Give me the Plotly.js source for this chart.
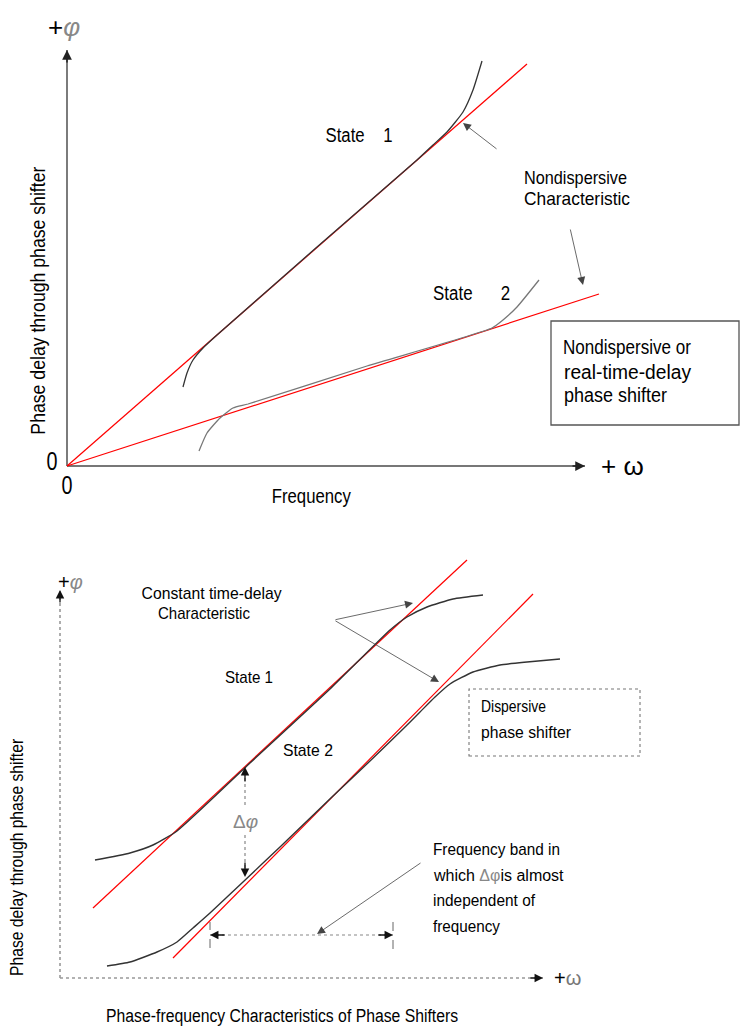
<!DOCTYPE html>
<html>
<head>
<meta charset="utf-8">
<script src="https://cdn.plot.ly/plotly-3.0.1.min.js"></script>
<style>
html,body{margin:0;padding:0;background:#fff;}
#chart{width:741px;height:1026px;}
</style>
</head>
<body>
<div id="chart"></div>
<script>
// ---------- DATA (top panel: nondispersive phase shifter) ----------
const topAxisX = [0, 518];          // frequency axis extent
const topAxisY = [0, 416];          // phase axis extent
const topRed1X = [0, 460];
const topRed1Y = [0, 402];
const topRed2X = [0, 532];
const topRed2Y = [0, 172];
const topState1X = [116, 120, 126, 136, 150, 250, 350, 366, 380, 396, 406, 415];
const topState1Y = [79, 93, 106, 118, 131, 219, 306, 321, 334, 354, 376, 405];
const topState2X = [132, 140, 153, 166, 181, 300, 425, 436, 450, 472];
const topState2Y = [15, 33, 48, 58, 62, 100, 138, 146, 159, 186];

// ---------- DATA (bottom panel: dispersive phase shifter) ----------
const botAxisX = [0, 483];
const botAxisY = [0, 388];
const botRed1X = [33, 407];
const botRed1Y = [70, 418];
const botRed2X = [113, 473];
const botRed2Y = [20, 384];
const botState1X = [35, 70, 93, 117, 190, 270, 330, 347, 367, 393, 423];
const botState1Y = [118, 125, 133, 147, 215, 289, 348, 361, 371, 379, 383];
const botState2X = [47, 70, 97, 117, 133, 150, 183, 220, 273, 310, 343, 360, 375, 390, 413, 440, 467, 500];
const botState2Y = [12, 16, 26, 36, 50, 65, 96, 131, 182, 217, 249, 266, 281, 294, 306, 313, 316, 319];
const deltaPhiX = 185;               // where delta-phi is measured
const deltaPhiY = [211, 101];        // state 1 / state 2 phase at deltaPhiX
const bandX = [150, 333];            // frequency band of near-constant delta-phi
const bandY = 43;

// ---------- STYLE ----------
const FONT = "Liberation Sans, Arial, sans-serif";
const RED = "#ff0000";

function line(x, y, xa, ya, color, width, dash, shape) {
  return {x: x, y: y, xaxis: xa, yaxis: ya, type: "scatter", mode: "lines",
    hoverinfo: "skip", showlegend: false,
    line: {color: color, width: width, dash: dash || "solid", shape: shape || "linear", smoothing: 0.5}};
}

const traces = [
  // top axes
  line(topAxisX, [0, 0], "x", "y", "#777", 2),
  line([0, 0], topAxisY, "x", "y", "#444", 1.4),
  // top characteristics
  line(topRed1X, topRed1Y, "x", "y", RED, 1.2),
  line(topRed2X, topRed2Y, "x", "y", RED, 1.2),
  line(topState1X, topState1Y, "x", "y", "#333", 1.3, "solid", "spline"),
  line(topState2X, topState2Y, "x", "y", "#777", 1.3, "solid", "spline"),
  // bottom axes (dashed)
  line(botAxisX, [0, 0], "x2", "y2", "#999", 1.6, "dot"),
  line([0, 0], botAxisY, "x2", "y2", "#999", 1.6, "dot"),
  // bottom characteristics
  line(botRed1X, botRed1Y, "x2", "y2", RED, 1.2),
  line(botRed2X, botRed2Y, "x2", "y2", RED, 1.2),
  line(botState1X, botState1Y, "x2", "y2", "#333", 1.4, "solid", "spline"),
  line(botState2X, botState2Y, "x2", "y2", "#333", 1.4, "solid", "spline"),
  // delta-phi dimension
  line([deltaPhiX, deltaPhiX], [deltaPhiY[0] - 5, 170], "x2", "y2", "#888", 1.2, "dot"),
  line([deltaPhiX, deltaPhiX], [143, deltaPhiY[1] + 5], "x2", "y2", "#888", 1.2, "dot"),
  // frequency band dimension
  line(bandX, [bandY, bandY], "x2", "y2", "#888", 1.2, "dot"),
  line([bandX[0], bandX[0]], [bandY - 13, bandY + 13], "x2", "y2", "#666", 1, "dash"),
  line([bandX[1], bandX[1]], [bandY - 14, bandY + 13], "x2", "y2", "#666", 1, "dash")
];

// annotations + target text widths (to mimic the narrow drafting font)
const annotations = [];
const textWidth = [];
function add(ann, w) { annotations.push(ann); textWidth.push(w || 0); }

function txt(x, y, text, size, opts) {
  return Object.assign({x: x, y: y, xref: "x", yref: "y", text: text, showarrow: false,
    font: {family: FONT, size: size, color: "#000"}, xanchor: "center", yanchor: "middle"}, opts || {});
}
function arrow(hx, hy, tx, ty, xr, yr, opts) {
  return Object.assign({x: hx, y: hy, ax: tx, ay: ty, xref: xr, yref: yr, axref: xr, ayref: yr,
    text: "", showarrow: true, arrowhead: 2, arrowsize: 1.6, arrowwidth: 1, arrowcolor: "#333"}, opts || {});
}
const B = {xref: "x2", yref: "y2"};
const BL = {xref: "x2", yref: "y2", xanchor: "left", align: "left"};
const L = {xanchor: "left", align: "left"};
const PHI = "<span style='color:#888'><i>φ</i></span>";
const AX = {arrowcolor: "#222", arrowsize: 1.3, arrowwidth: 1.5};
const AXB = {arrowcolor: "#111", arrowsize: 1.3, arrowwidth: 1.3};
const LEAD = {arrowwidth: 0.8, arrowsize: 2, arrowcolor: "#444"};

// ---- top panel ----
add(arrow(topAxisX[1], 0, topAxisX[1] - 14, 0, "x", "y", AX));
add(arrow(0, topAxisY[1], 0, topAxisY[1] - 14, "x", "y", AX));
add(txt(-3, 439, "+" + PHI, 26));
add(txt(555, 0, "+ ω", 26));
add(txt(-15, 5, "0", 25), 11);
add(txt(0, -19, "0", 25), 11);
add(txt(244, -30, "Frequency", 20), 79);
add(txt(-30, 165, "Phase delay through phase shifter", 21, {textangle: -90}), 268);
add(txt(292, 331, "State&nbsp;&nbsp;&nbsp;&nbsp;1", 20), 67);
add(txt(455, 289, "Nondispersive", 19, L), 103);
add(txt(455, 268, "Characteristic", 19, L), 106);
add(txt(404, 173, "State&nbsp;&nbsp;&nbsp;&nbsp;&nbsp;&nbsp;2", 20), 77);
add(txt(494, 119, "Nondispersive or", 20, L), 128);
add(txt(495, 94, "real-time-delay", 20, L), 127);
add(txt(495, 71, "phase shifter", 20, L), 103);
add(arrow(396, 343, 431, 316, "x", "y", LEAD));
add(arrow(516, 181, 503, 238, "x", "y", LEAD));

// ---- bottom panel ----
add(arrow(botAxisX[1], 0, botAxisX[1] - 14, 0, "x2", "y2", AXB));
add(arrow(0, botAxisY[1], 0, botAxisY[1] - 14, "x2", "y2", AXB));
add(txt(10, 396, "+" + PHI, 20, B));
add(txt(507, 0, "+<span style='color:#777'>ω</span>", 20, B));
add(txt(152, 384, "Constant time-delay", 17, B), 140);
add(txt(144, 364, "Characteristic", 17, B), 92);
add(txt(189, 300, "State 1", 17, B), 48);
add(txt(248, 227, "State 2", 17, B), 50);
add(txt(deltaPhiX, 156, "<span style='color:#888'>Δ<i>φ</i></span>", 19, B));
add(arrow(deltaPhiX, deltaPhiY[0], deltaPhiX, deltaPhiY[0] - 16, "x2", "y2", AXB));
add(arrow(deltaPhiX, deltaPhiY[1], deltaPhiX, deltaPhiY[1] + 16, "x2", "y2", AXB));
add(arrow(bandX[0], bandY, bandX[0] + 16, bandY, "x2", "y2", AXB));
add(arrow(bandX[1], bandY, bandX[1] - 16, bandY, "x2", "y2", AXB));
add(arrow(257, 44, 362, 116, "x2", "y2", LEAD));
add(arrow(353, 375, 274, 358, "x2", "y2", LEAD));
add(arrow(379, 296, 274, 358, "x2", "y2", LEAD));
add(txt(371, 128, "Frequency band in", 17, BL), 127);
add(txt(371, 102, "which <span style='color:#888'>Δφ</span>is almost", 16, BL));
add(txt(371, 77, "independent of", 17, BL), 102);
add(txt(371, 51, "frequency", 17, BL), 67);
add(txt(419, 271, "Dispersive", 17, BL), 65);
add(txt(419, 245, "phase shifter", 17, BL), 90);
add(txt(-43, 120, "Phase delay through phase shifter", 18, Object.assign({textangle: -90}, B)), 237);
add(txt(222, -38, "Phase-frequency Characteristics of Phase Shifters", 18, B), 352);

const shapes = [
  {type: "rect", xref: "x", yref: "y", x0: 484, x1: 672, y0: 41, y1: 145,
   line: {color: "#555", width: 1.3}},
  {type: "rect", xref: "x2", yref: "y2", x0: 409, x1: 580, y0: 222, y1: 289,
   line: {color: "#777", width: 1.1, dash: "dot"}}
];

const hidden = {visible: false, fixedrange: true, showgrid: false, zeroline: false};
const layout = {
  width: 741, height: 1026,
  margin: {l: 0, r: 0, t: 0, b: 0},
  paper_bgcolor: "#fff", plot_bgcolor: "#fff",
  showlegend: false,
  xaxis: Object.assign({domain: [0, 1], range: [-67, 674], anchor: "y"}, hidden),
  yaxis: Object.assign({domain: [0.502924, 1], range: [-44, 466], anchor: "x"}, hidden),
  xaxis2: Object.assign({domain: [0, 1], range: [-60, 681], anchor: "y2"}, hidden),
  yaxis2: Object.assign({domain: [0, 0.502924], range: [-48, 468], anchor: "x2"}, hidden),
  annotations: annotations,
  shapes: shapes
};

Plotly.newPlot("chart", traces, layout, {staticPlot: true, displayModeBar: false}).then(function () {
  document.querySelectorAll("#chart g.annotation").forEach(function (g) {
    const i = +g.getAttribute("data-index");
    const w = textWidth[i];
    if (!w) return;
    const t = g.querySelector("text.annotation-text");
    if (!t) return;
    t.setAttribute("textLength", w);
    t.setAttribute("lengthAdjust", "spacingAndGlyphs");
  });
});
</script>
</body>
</html>
